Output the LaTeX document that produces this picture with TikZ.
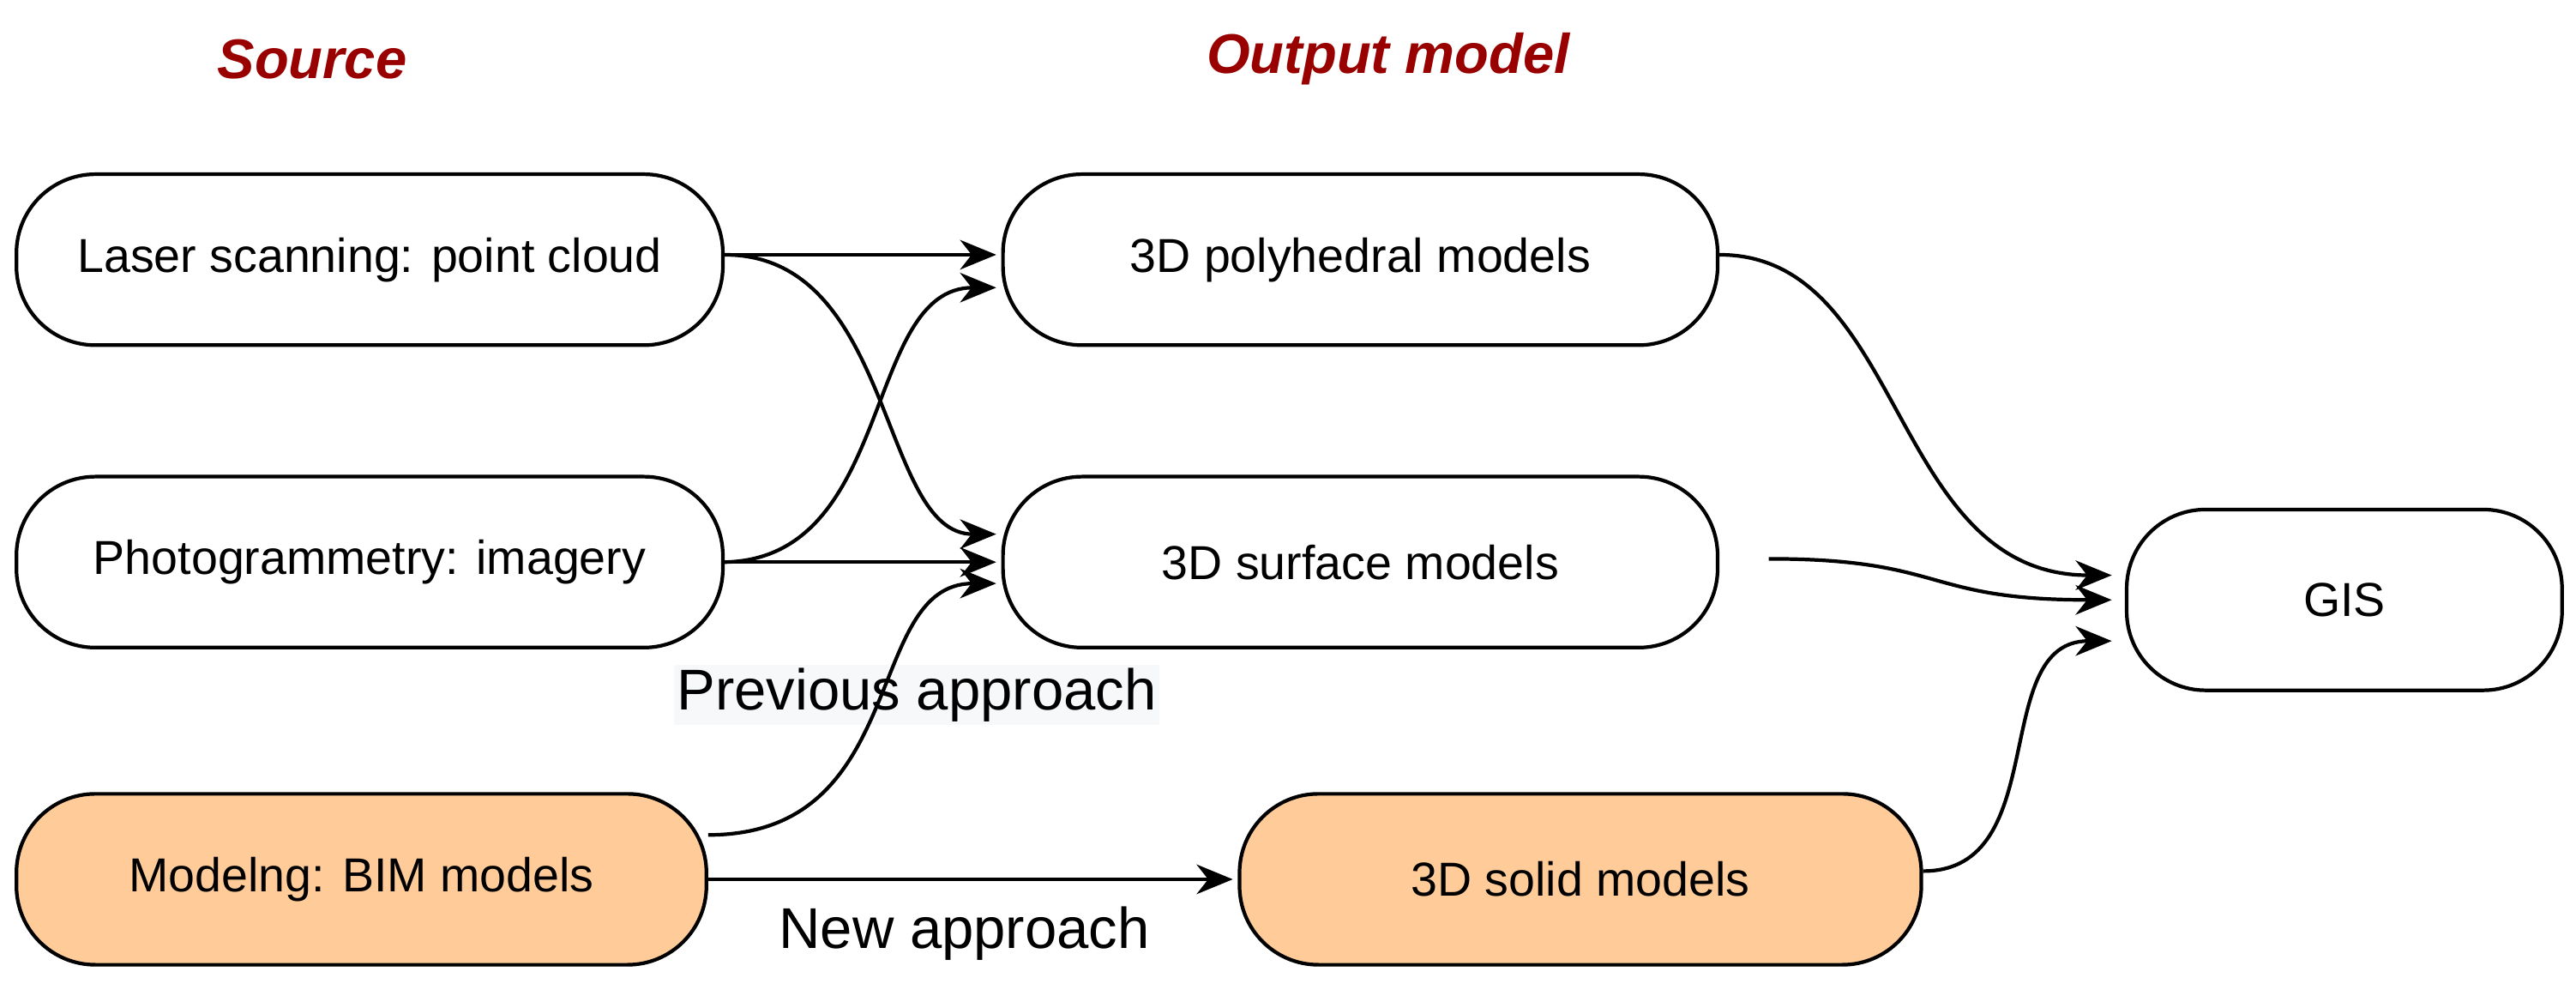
\documentclass[tikz,border=0pt]{standalone}
\usepackage{fontspec}
\setmainfont{Liberation Sans}
\usetikzlibrary{arrows.meta,calc}
\begin{document}
\begin{tikzpicture}[x=1pt,y=-1pt,
  box/.style={draw,line width=2.2pt,rounded corners=48pt,minimum height=104pt,inner sep=0pt,font=\fontsize{29}{34}\selectfont},
  hl/.style={fill={rgb,255:red,255;green,204;blue,153}},
  title/.style={font=\fontsize{34}{40}\selectfont\bfseries\itshape,text={rgb,255:red,153;green,0;blue,0}},
  lab/.style={font=\fontsize{35}{40}\selectfont,inner sep=2pt},
  arr/.style={line width=2.2pt,-{Stealth[length=22pt,width=18pt,inset=7pt]}}]
\useasboundingbox (0,0) rectangle (1568,606);
\node[title] (ts) at (190,36) {Source};
\node[title] (to) at (845,36) {Output model};
\node[box,minimum width=430pt] (laser) at (225,158) {Laser scanning: point cloud};
\node[box,minimum width=430pt] (photo) at (225,342) {Photogrammetry: imagery};
\node[box,minimum width=420pt,hl] (bim) at (220,535) {Modelng: BIM models};
\node[box,minimum width=435pt] (poly) at (828,158) {3D polyhedral models};
\node[box,minimum width=435pt] (surf) at (828,342) {3D surface models};
\node[box,minimum width=415pt,hl] (solid) at (962,535) {3D solid models};
\node[box,minimum width=265pt,minimum height=110pt] (gis) at (1427,365) {GIS};
\node[lab,fill={rgb,255:red,246;green,248;blue,250}] (prev) at (558,423) {Previous approach};
\node[lab] (new) at (587,568) {New approach};
% edges
\draw[arr] ($(laser.east)+(0,-3)$) -- ($(poly.west)+(-3,-3)$);
\draw[arr] ($(laser.east)+(0,-3)$) .. controls (545,155) and (535,325) .. ($(surf.west)+(-3,-17)$);
\draw[arr] (photo.east) .. controls (545,340) and (525,175) .. ($(poly.west)+(-3,17)$);
\draw[arr] (photo.east) -- ($(surf.west)+(-3,0)$);
\draw[arr] ($(bim.east)+(0,-27)$) .. controls (555,508) and (525,355) .. ($(surf.west)+(-3,13)$);
\draw[arr] (bim.east) -- ($(solid.west)+(-3,0)$);
\draw[arr] ($(poly.east)+(0,-3)$) .. controls (1160,155) and (1150,350) .. ($(gis.west)+(-8,-15)$);
\draw[arr] ($(surf.east)+(30,-2)$) .. controls (1185,340) and (1170,365) .. ($(gis.west)+(-8,0)$);
\draw[arr] ($(solid.east)+(0,-5)$) .. controls (1250,530) and (1210,390) .. ($(gis.west)+(-8,25)$);
\end{tikzpicture}
\end{document}
